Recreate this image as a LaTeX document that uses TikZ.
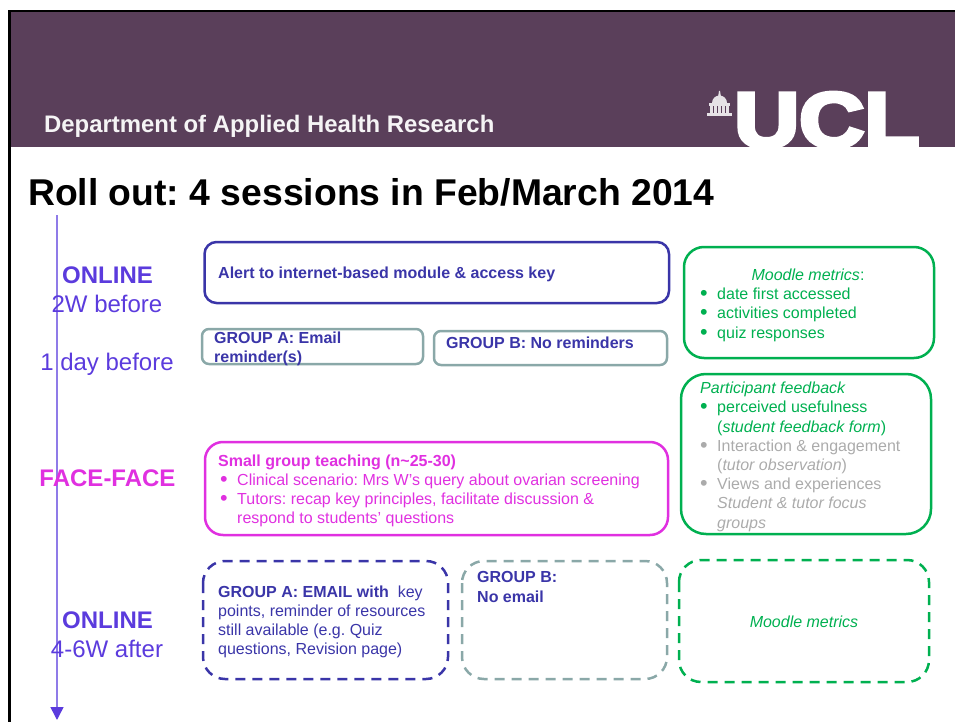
\documentclass[tikz,border=0pt]{standalone}
\usepackage{fontspec}
\setmainfont{Liberation Sans}
\newfontfamily\uclfont[UprightFont=* Bold,FakeBold=5]{Liberation Sans}
\usetikzlibrary{arrows.meta}
\definecolor{band}{HTML}{5A3F5A}
\definecolor{axis}{HTML}{8F7BE8}
\definecolor{timec}{HTML}{5B3BDD}
\definecolor{navy}{HTML}{3A35A8}
\definecolor{teal}{HTML}{8AA8A8}
\definecolor{mag}{HTML}{E030E0}
\definecolor{grn}{HTML}{00B050}
\definecolor{greytx}{HTML}{ABABAB}
\newcommand{\fs}[1]{\fontsize{#1}{#1}\selectfont}
\newcommand{\bul}[1]{\makebox[#1][l]{\raisebox{-1.8pt}{\scalebox{1.35}{\textbullet}}}}
\frenchspacing
\tikzset{
  x=1pt,y=-1pt,
  panel/.style={draw,line width=2.5pt,rounded corners=#1},
  dashpanel/.style={panel=#1,dash pattern=on 10pt off 7pt},
  txt/.style={inner sep=0pt,anchor=base west,align=left},
  timelbl/.style={inner sep=0pt,anchor=base,text=timec,font=\fs{24}},
  body/.style={font=\fs{16}},
  bodyb/.style={font=\bfseries\fs{16}},
  bodyi/.style={font=\itshape\fs{16}},
}
\begin{document}
\begin{tikzpicture}
\useasboundingbox (0,0) rectangle (955,722);
% header
\fill[band] (9,11) rectangle (955,147);
\draw[black,line width=2.5pt] (955,11) -- (9.5,11) -- (9.5,722);
\begin{scope}
\clip (735,80) rectangle (955,147);
\node[inner sep=0pt,anchor=base west,text=white,font=\uclfont\fs{78}] (ucl) at (734,147) {\scalebox{1.155}[1]{UCL}};
\end{scope}
% dome
\fill[white!85!band] (707,113) rectangle (732,116);
\foreach \cx in {710,714,718,722,726}
  \fill[white!85!band] (\cx,106) rectangle ++(2.5,7);
\fill[white!85!band] (709,103) rectangle (730,106);
\fill[white!85!band] (712,103) arc[start angle=180,end angle=0,radius=7.5pt] -- cycle;
\fill[white!85!band] (718,97) -- (721,97) -- (720,91) -- (719,91) -- cycle;
\node[txt,text=white!94!band,font=\bfseries\fs{23.9}] (dept) at (44,133) {Department of Applied Health Research};
\node[txt,font=\bfseries\fs{37.3}] (title) at (28,205) {Roll out: 4 sessions in Feb/March 2014};
% time axis
\coordinate (axtop) at (57,215);
\coordinate (axbot) at (57,720);
\draw[axis,line width=1.5pt,-{Triangle[length=13pt,width=13pt,color=timec]}] (axtop) -- (axbot);
% time labels
\node[timelbl,font=\bfseries\fs{24}] (on1) at (107.5,283) {ONLINE};
\node[timelbl] (w2) at (107,312) {2W before};
\node[timelbl] (d1) at (107,370) {1 day before};
\node[timelbl,text=mag,font=\bfseries\fs{24}] (ff) at (107.5,486) {FACE-FACE};
\node[timelbl,font=\bfseries\fs{24}] (on2) at (107.5,628) {ONLINE};
\node[timelbl] (w4) at (107,657) {4-6W after};
% boxes
\draw[navy,panel=12pt] (204.5,242) rectangle (669,303);
\draw[teal,panel=7pt] (202,329) rectangle (423,364);
\draw[teal,panel=7pt] (434,331) rectangle (667,365);
\draw[mag,panel=18pt] (205,442) rectangle (668,535);
\draw[grn,panel=20pt] (684,247) rectangle (934,358);
\draw[grn,panel=25pt] (681,374) rectangle (931,534);
\draw[navy,dashpanel=22pt] (203,561) rectangle (448,679);
\draw[teal,dashpanel=22pt] (462,561) rectangle (667,679);
\draw[grn,dashpanel=22pt] (679,560) rectangle (929,682);
% box texts
\node[txt,text=navy,bodyb] (alert) at (218,278) {Alert to internet-based module \& access key};
\node[txt,text=navy,bodyb] (ga1) at (214,343) {GROUP A: Email};
\node[txt,text=navy,bodyb] (ga2) at (214,362) {reminder(s)};
\node[txt,text=navy,bodyb] (gb) at (446,348) {GROUP B: No reminders};
\node[txt,text=mag,bodyb] (sg0) at (218,466) {Small group teaching (n\textasciitilde 25-30)};
\node[txt,text=mag,body] (sg1) at (220,485) {\bul{17pt}Clinical scenario: Mrs W’s query about ovarian screening};
\node[txt,text=mag,body] (sg2) at (220,504) {\bul{17pt}Tutors: recap key principles, facilitate discussion \&};
\node[txt,text=mag,body] (sg3) at (237,523) {respond to students’ questions};
\node[inner sep=0pt,anchor=base,text=grn,bodyi] (mm) at (808,280) {Moodle metrics\upshape:};
\node[txt,text=grn,body] (mm1) at (700,299) {\bul{17pt}date first accessed};
\node[txt,text=grn,body] (mm2) at (700,318) {\bul{17pt}activities completed};
\node[txt,text=grn,body] (mm3) at (700,338) {\bul{17pt}quiz responses};
\node[txt,text=grn,bodyi] (pf) at (700,393) {Participant feedback};
\node[txt,text=grn,body] (pf1) at (700,412) {\bul{17pt}perceived usefulness};
\node[txt,text=grn,body] (pf2) at (717,432) {(\textit{student feedback form})};
\node[txt,text=greytx,body] (pf3) at (700,451) {\bul{17pt}Interaction \& engagement};
\node[txt,text=greytx,body] (pf4) at (717,470) {(\textit{tutor observation})};
\node[txt,text=greytx,body] (pf5) at (700,489) {\bul{17pt}Views and experiences};
\node[txt,text=greytx,bodyi] (pf6) at (717,508) {Student \& tutor focus};
\node[txt,text=greytx,bodyi] (pf7) at (717,528) {groups};
\node[txt,text=navy,body] (ea1) at (218,597) {\textbf{GROUP A: EMAIL with}\ \ key};
\node[txt,text=navy,body] (ea2) at (218,616) {points, reminder of resources};
\node[txt,text=navy,body] (ea3) at (218,635) {still available (e.g. Quiz};
\node[txt,text=navy,body] (ea4) at (218,654) {questions, Revision page)};
\node[txt,text=navy,bodyb] (eb1) at (477,582) {GROUP B:};
\node[txt,text=navy,bodyb] (eb2) at (477,602) {No email};
\node[inner sep=0pt,anchor=base,text=grn,bodyi] (mm4) at (804,627) {Moodle metrics};
\end{tikzpicture}
\end{document}
